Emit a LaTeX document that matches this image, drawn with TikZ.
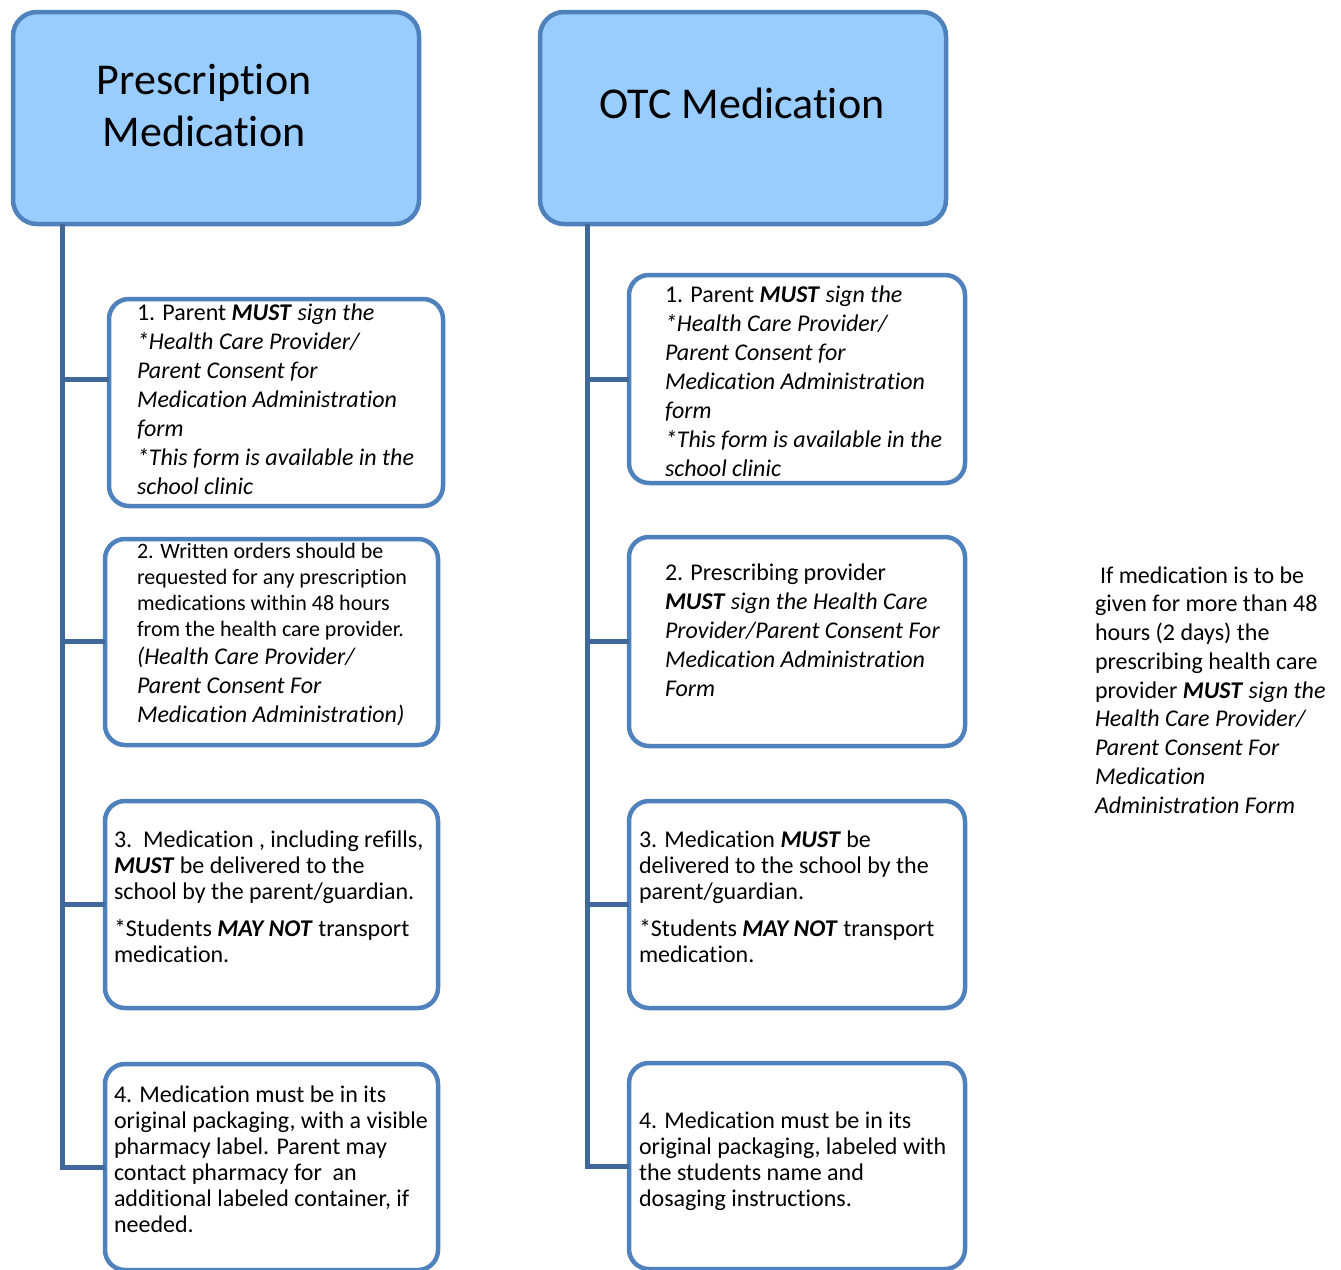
\documentclass[tikz,border=0pt]{standalone}
\usepackage{fontspec}
\setmainfont{Carlito}[Ligatures=NoCommon]
\definecolor{tfill}{HTML}{99CCFF}
\definecolor{bstroke}{HTML}{4F81BD}
\definecolor{trunkc}{HTML}{3F6797}
\tikzset{
  titlebox/.style={draw=bstroke, fill=tfill, line width=4.5pt, rounded corners=24pt, rectangle, inner sep=0, outer sep=0, anchor=north west},
  itembox/.style={draw=bstroke, fill=white, line width=4.5pt, rounded corners=20pt, rectangle, inner sep=0, outer sep=0, anchor=north west},
  txt/.style={anchor=base west, inner sep=0, outer sep=0},
  ttl/.style={anchor=base, inner sep=0, outer sep=0},
  trunk/.style={draw=trunkc, line width=5pt},
}
\newcommand{\bi}[1]{\textbf{\textit{#1}}}
\newcommand{\bodyA}{\fontsize{24}{29}\selectfont}
\newcommand{\bodyB}{\fontsize{24}{26}\selectfont}
\begin{document}
\begin{tikzpicture}[x=1pt,y=-1pt]
\useasboundingbox (0,0) rectangle (1341,1269);

% title boxes
\node[titlebox, minimum width=406pt, minimum height=212pt] (pt) at (13,12) {};
\node[titlebox, minimum width=406pt, minimum height=212pt] (ot) at (540,12) {};
\node[ttl] (ptt) at (204,94) {\parbox[t]{320pt}{\centering\fontsize{44}{52}\selectfont Prescription\\Medication}};
\node[ttl] (ott) at (742,118) {\parbox[t]{380pt}{\centering\fontsize{44}{52}\selectfont OTC Medication}};

% left boxes
\node[itembox, minimum width=334pt, minimum height=207pt] (l1) at (109,299) {};
\node[itembox, minimum width=333pt, minimum height=206pt] (l2) at (105,539) {};
\node[itembox, minimum width=333pt, minimum height=207pt] (l3) at (105,801) {};
\node[itembox, minimum width=333pt, minimum height=206pt] (l4) at (105,1064) {};

% right boxes
\node[itembox, minimum width=336pt, minimum height=208pt] (r1) at (629,275) {};
\node[itembox, minimum width=336pt, minimum height=209pt] (r2) at (629,537) {};
\node[itembox, minimum width=336pt, minimum height=207pt] (r3) at (629,801) {};
\node[itembox, minimum width=336pt, minimum height=206pt] (r4) at (629,1063) {};

% connectors
\coordinate (ltop) at (62,224);
\coordinate (lb1) at (62,379);
\coordinate (lb2) at (62,641);
\coordinate (lb3) at (62,904);
\coordinate (rtop) at (587,224);
\coordinate (rb1) at (587,379);
\coordinate (rb2) at (587,641);
\coordinate (rb3) at (587,904);
\draw[trunk] (ltop) |- (l4.west);
\draw[trunk] (lb1) -- (lb1 -| l1.west);
\draw[trunk] (lb2) -- (lb2 -| l2.west);
\draw[trunk] (lb3) -- (lb3 -| l3.west);
\draw[trunk] (rtop) |- (r4.west);
\draw[trunk] (rb1) -- (rb1 -| r1.west);
\draw[trunk] (rb2) -- (rb2 -| r2.west);
\draw[trunk] (rb3) -- (rb3 -| r3.west);

% left texts
\node[txt] (l1t) at (137,320) {\parbox[t]{320pt}{\bodyA 1. Parent \bi{MUST} \textit{sign the}\\ \textit{*Health Care Provider/}\\ \textit{Parent Consent for}\\ \textit{Medication Administration}\\ \textit{form}\\ \textit{*This form is available in the}\\ \textit{school clinic}}};
\node[txt] (l2t) at (137,558) {\parbox[t]{320pt}{\fontsize{22}{26}\selectfont 2. Written orders should be\\ requested for any prescription\\ medications within 48 hours\\ from the health care provider.\\[2pt] \fontsize{24}{26}\selectfont \textit{(Health Care Provider/}\\[3pt] \textit{Parent Consent For}\\[3pt] \textit{Medication Administration)}}};
\node[txt] (l3t) at (114,847) {\parbox[t]{330pt}{\bodyB 3.\ \ Medication , including refills,\\ \bi{MUST} be delivered to the\\ school by the parent/guardian.\\[11pt] *Students \bi{MAY NOT} transport\\ medication.}};
\node[txt] (l4t) at (114,1102) {\parbox[t]{330pt}{\bodyB 4. Medication must be in its\\ original packaging, with a visible\\ pharmacy label. Parent may\\ contact pharmacy for\ \ an\\ additional labeled container, if\\ needed.}};

% right texts
\node[txt] (r1t) at (665,302) {\parbox[t]{320pt}{\bodyA 1. Parent \bi{MUST} \textit{sign the}\\ \textit{*Health Care Provider/}\\ \textit{Parent Consent for}\\ \textit{Medication Administration}\\ \textit{form}\\ \textit{*This form is available in the}\\ \textit{school clinic}}};
\node[txt] (r2t) at (665,580) {\parbox[t]{320pt}{\bodyA 2. Prescribing provider\\ \bi{MUST} \textit{sign the Health Care}\\ \textit{Provider/Parent Consent For}\\ \textit{Medication Administration}\\ \textit{Form}}};
\node[txt] (r3t) at (639,847) {\parbox[t]{330pt}{\bodyB 3. Medication \bi{MUST} be\\ delivered to the school by the\\ parent/guardian.\\[11pt] *Students \bi{MAY NOT} transport\\ medication.}};
\node[txt] (r4t) at (639,1128) {\parbox[t]{330pt}{\bodyB 4. Medication must be in its\\ original packaging, labeled with\\ the students name and\\ dosaging instructions.}};

% side note
\node[txt] (note) at (1095,583) {\parbox[t]{246pt}{\fontsize{24}{28.75}\selectfont \hspace*{5pt}If medication is to be\\ given for more than 48\\ hours (2 days) the\\ prescribing health care\\ provider \bi{MUST} \textit{sign the}\\ \textit{Health Care Provider/}\\ \textit{Parent Consent For}\\ \textit{Medication}\\ \textit{Administration Form}}};
\end{tikzpicture}
\end{document}
